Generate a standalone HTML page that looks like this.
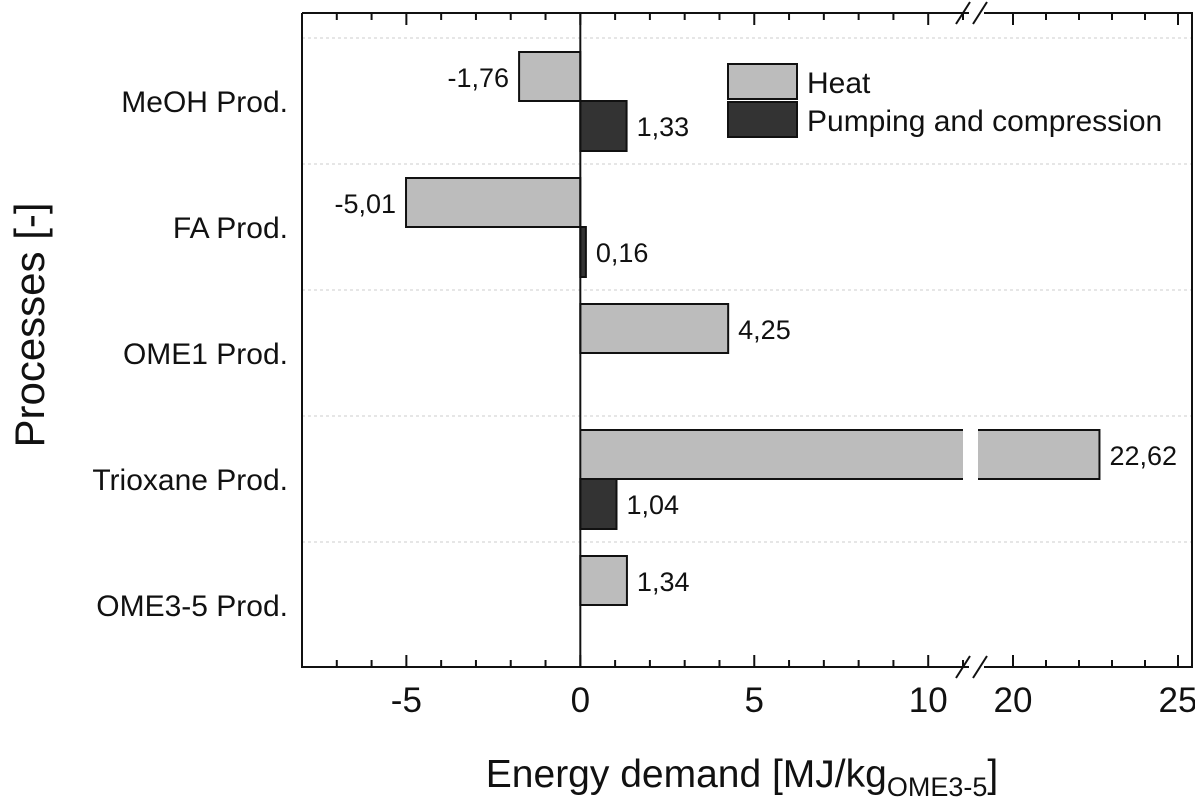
<!DOCTYPE html>
<html><head><meta charset="utf-8"><style>
body{margin:0;background:#fff}
svg text{font-family:"Liberation Sans",Arial,sans-serif;fill:#111}
</style></head><body>
<svg id="chart" width="1195" height="800" viewBox="0 0 1195 800">
<g id="g"></g>
</svg>
<script>
const categories=["MeOH Prod.","FA Prod.","OME1 Prod.","Trioxane Prod.","OME3-5 Prod."];
const heatValues=[-1.76,-5.01,4.25,22.62,1.34];
const pumpValues=[1.33,0.16,null,1.04,null];
const tickValues=[-5,0,5,10,20,25];
const tickLabels=["-5","0","5","10","20","25"];
const minorTicks=[-8,-7,-6,-5,-4,-3,-2,-1,0,1,2,3,4,5,6,7,8,9,10,11,20,21,22,23,24,25];
const seriesNames=["Heat","Pumping and compression"];

const NS="http://www.w3.org/2000/svg";
const g=document.getElementById('g');
const L=302,R=1192,T=13,B=667;
const brkX0=963,brkX1=980;
function x(v){ if(v<=11) return L+(v+8)*(brkX0-L)/19; return 1013+(v-20)*33; }
function bandTop(i){return 38+i*126;}
function mk(tag,attrs,parent){const e=document.createElementNS(NS,tag);for(const k in attrs)e.setAttribute(k,attrs[k]);(parent||g).appendChild(e);return e;}
function fmt(v){return v.toFixed(2).replace('.',',');}

for(let i=0;i<categories.length;i++){
  const gl=mk('line',{x1:L,x2:R,y1:bandTop(i),y2:bandTop(i),stroke:'#ccc','stroke-dasharray':'3,3','stroke-width':1});
  
  
}
function bar(v,y0,h,fill,name,labelY){
  if(v==null)return;
  const x0=x(Math.min(0,v)),x1=x(Math.max(0,v));
  if(v>11){
    const r1=mk('rect',{x:x(0),y:y0,width:brkX0-x(0),height:h,fill:fill});
    
    
    mk('path',{d:`M${x(0)},${y0}H${brkX0}M${x(0)},${y0+h}H${brkX0}`,stroke:'#111','stroke-width':2,fill:'none'});
    const r2=mk('rect',{x:978,y:y0,width:x1-978,height:h,fill:fill});
    
    
    mk('path',{d:`M978,${y0}H${x1}V${y0+h}H978`,stroke:'#111','stroke-width':2,fill:'none'});
  }else{
    const r=mk('rect',{x:x0,y:y0,width:Math.max(x1-x0,1),height:h,fill:fill,stroke:'#111','stroke-width':2});
    
    
  }
  const t=mk('text',{x:v<0?x0-10:x1+10,y:labelY,'font-size':27,'text-anchor':v<0?'end':'start'});
  t.textContent=fmt(v);
  
  
}
categories.forEach((c,i)=>{
  const top=bandTop(i);
  bar(heatValues[i],top+14,49,'#bcbcbc','bar-heat',top+49);
  bar(pumpValues[i],top+63,50,'#333','bar-pumping',top+98);
  const t=mk('text',{x:288,y:top+74,'font-size':30,'text-anchor':'end'});
  t.textContent=c;
  
  
});
mk('line',{x1:x(0),x2:x(0),y1:T,y2:B,stroke:'#111','stroke-width':2});
mk('path',{d:`M${L},${T}V${B}H${brkX0+6}M${brkX1+4},${B}H${R}V${T}H${brkX1+4}M${brkX0+6},${T}H${L}`,stroke:'#111','stroke-width':2,fill:'none'});
[T,B].forEach(yy=>{
  mk('path',{d:`M${brkX0-7},${yy+11}L${brkX0+7},${yy-11}M${brkX0+10},${yy+11}L${brkX0+24},${yy-11}`,stroke:'#111','stroke-width':2,fill:'none'});
});
minorTicks.forEach(v=>{
  const maj=tickValues.includes(v);
  const len=maj?12:7;
  mk('line',{x1:x(v),x2:x(v),y1:B,y2:B-len,stroke:'#111','stroke-width':2});
  mk('line',{x1:x(v),x2:x(v),y1:T,y2:T+len,stroke:'#111','stroke-width':2});
});
tickValues.forEach((v,i)=>{
  const t=mk('text',{x:x(v),y:712,'font-size':35,'text-anchor':'middle'});
  t.textContent=tickLabels[i];
  
  
});
const lg=mk('g',{});


[['#bcbcbc',64],['#333',102]].forEach((d,i)=>{
  mk('rect',{x:728,y:d[1],width:69,height:35,fill:d[0],stroke:'#111','stroke-width':2},lg);
  const t=mk('text',{x:807,y:d[1]+29,'font-size':30},lg);
  t.textContent=seriesNames[i];
  
  
});
const yt=mk('text',{x:0,y:0,'font-size':42,'text-anchor':'middle',transform:'translate(44,325) rotate(-90)'});
yt.textContent='Processes [-]';


const xt=mk('text',{x:742,y:787,'font-size':39,'text-anchor':'middle'});
xt.innerHTML='Energy demand [MJ/kg<tspan font-size="27" dy="9">OME3-5</tspan><tspan dy="-9">]</tspan>';


</script>
</body></html>
